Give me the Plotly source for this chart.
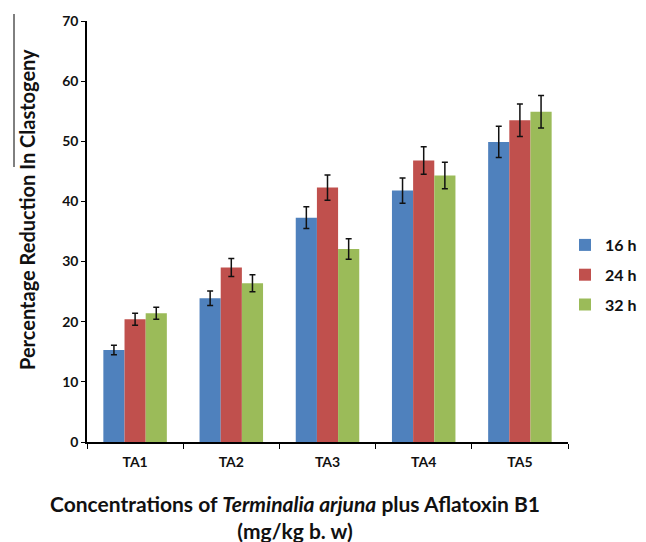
import plotly.graph_objects as go

categories = ["TA1", "TA2", "TA3", "TA4", "TA5"]
series_names = ["16 h", "24 h", "32 h"]
v16 = [15.3, 23.9, 37.3, 41.8, 49.9]
e16 = [0.8, 1.2, 1.8, 2.1, 2.6]
v24 = [20.4, 29.0, 42.3, 46.8, 53.5]
e24 = [1.0, 1.5, 2.1, 2.3, 2.7]
v32 = [21.4, 26.4, 32.1, 44.3, 54.9]
e32 = [1.0, 1.4, 1.7, 2.2, 2.7]
colors = ["#4F81BD", "#C0504D", "#9BBB59"]

O = 8  # page body margin offset
W, H = 646 - O, 542 - O
L, R, T, B = 87 - O, 646 - 568, 21 - O, 542 - 442
pw, ph = W - L - R, H - T - B

def px2x(px):
    return (px - O - L) / pw

def py2y(py):
    return (H - B - (py - O)) / ph

FONT = "Lato"
fig = go.Figure()
for name, vals, errs, c in zip(series_names, [v16, v24, v32], [e16, e24, e32], colors):
    fig.add_trace(go.Bar(
        x=categories, y=vals, name="<b>" + name + "</b>", legendgroup=name,
        marker=dict(color=c, line=dict(width=0)),
        error_y=dict(type="data", array=errs, visible=True, color="#111111",
                     thickness=1.5, width=3),
    ))

fig.update_layout(
    width=W, height=H,
    margin=dict(l=L, r=R, t=T, b=B, autoexpand=False),
    paper_bgcolor="white", plot_bgcolor="white",
    barmode="group", bargap=0.34, bargroupgap=0,
    font=dict(family=FONT, color="#111111"),
    showlegend=True,
    legend=dict(x=px2x(565), y=py2y(243 - 15), xanchor="left", yanchor="top",
                font=dict(family=FONT, size=16, color="#111111"),
                tracegroupgap=6, itemwidth=30, bgcolor="rgba(0,0,0,0)"),
    xaxis=dict(showline=True, linecolor="black", linewidth=1.5,
               ticks="outside", tickson="boundaries", ticklen=5, tickcolor="black",
               ticklabelstandoff=6,
               tickfont=dict(family=FONT, size=14, color="#111111", weight="bold"),
               showgrid=False, zeroline=False),
    yaxis=dict(range=[0, 70], dtick=10, showline=True, linecolor="black", linewidth=1.5,
               ticks="outside", ticklen=4, tickcolor="black",
               tickfont=dict(family=FONT, size=14, color="#111111", weight="bold"),
               showgrid=False, zeroline=False),
)

fig.add_annotation(
    x=px2x(27), y=py2y(210), xref="paper", yref="paper",
    text="<b>Percentage Reduction In Clastogeny</b>", textangle=-90,
    showarrow=False, font=dict(family=FONT, size=20, color="#111111"),
    xanchor="center", yanchor="middle",
)
fig.add_annotation(
    x=px2x(295), y=py2y(517), xref="paper", yref="paper",
    text="<b>Concentrations of <i>Terminalia arjuna</i> plus Aflatoxin B1</b><br><b>(mg/kg b. w)</b>",
    showarrow=False, font=dict(family=FONT, size=21, color="#111111"),
    xanchor="center", yanchor="middle", align="center",
)
fig.add_shape(type="line", xref="paper", yref="paper",
              x0=px2x(14), x1=px2x(14), y0=py2y(14), y1=py2y(167),
              line=dict(color="black", width=1))

fig.write_html("out.html")
